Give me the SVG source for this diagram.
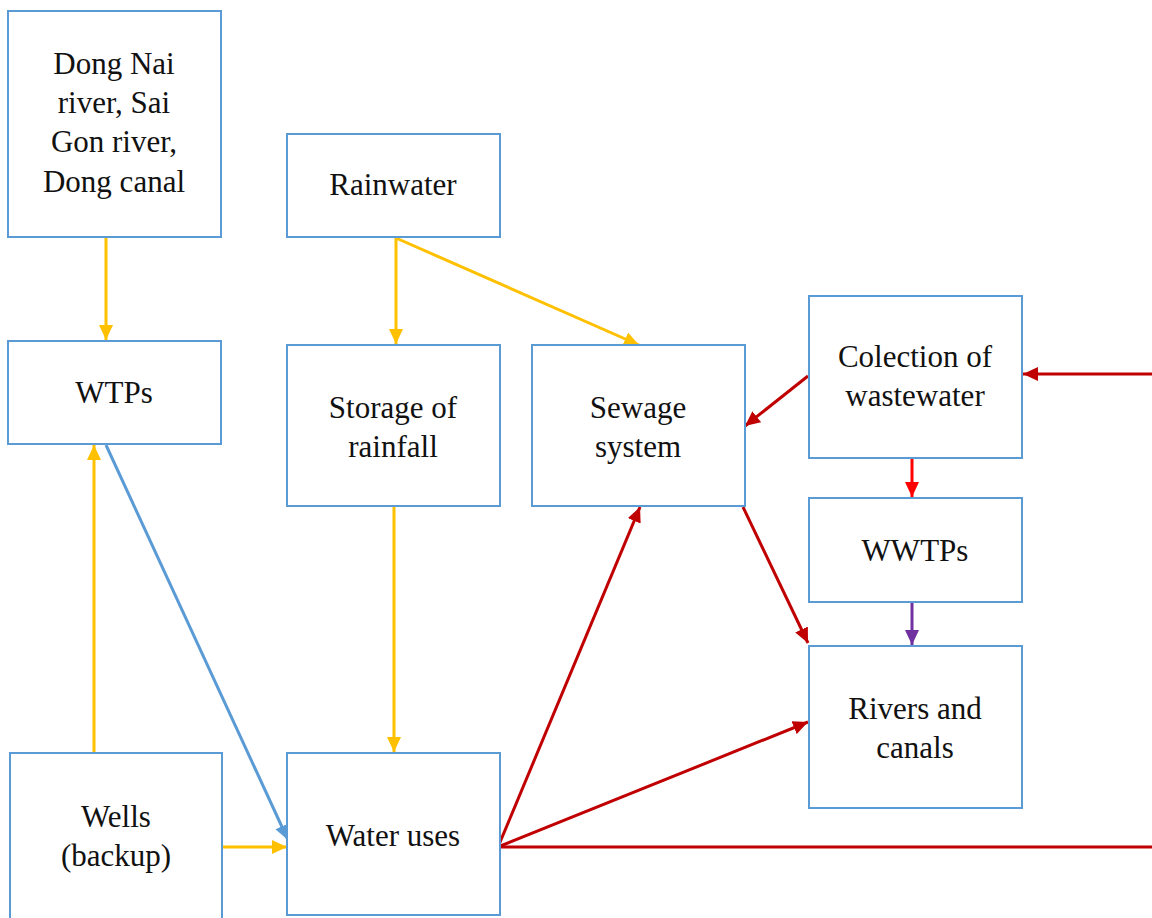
<svg xmlns="http://www.w3.org/2000/svg" width="1152" height="918" viewBox="0 0 1152 918">
<style>
.box{fill:#fff;stroke:#5B9BD5;stroke-width:2}
.t{font-family:"Liberation Serif","Times New Roman",serif;font-size:31px;fill:#111;text-anchor:middle}
.c{fill:none;stroke-width:3}
.y{stroke:#FFC000}
.b{stroke:#5B9BD5}
.dr{stroke:#C00000}
.r{stroke:#FF0000}
.p{stroke:#7030A0}
</style>
<defs>
<marker id="ay" markerUnits="userSpaceOnUse" markerWidth="16" markerHeight="14" refX="15" refY="7" orient="auto"><path d="M0,0 L15,7 L0,14 Z" fill="#FFC000"/></marker>
<marker id="ab" markerUnits="userSpaceOnUse" markerWidth="16" markerHeight="14" refX="15" refY="7" orient="auto"><path d="M0,0 L15,7 L0,14 Z" fill="#5B9BD5"/></marker>
<marker id="adr" markerUnits="userSpaceOnUse" markerWidth="16" markerHeight="14" refX="15" refY="7" orient="auto"><path d="M0,0 L15,7 L0,14 Z" fill="#C00000"/></marker>
<marker id="ar" markerUnits="userSpaceOnUse" markerWidth="16" markerHeight="14" refX="15" refY="7" orient="auto"><path d="M0,0 L15,7 L0,14 Z" fill="#FF0000"/></marker>
<marker id="ap" markerUnits="userSpaceOnUse" markerWidth="16" markerHeight="14" refX="15" refY="7" orient="auto"><path d="M0,0 L15,7 L0,14 Z" fill="#7030A0"/></marker>
</defs>
<rect width="1152" height="918" fill="#fff"/>

<g id="connectors">
<path class="c y" d="M106,238 L106,340" marker-end="url(#ay)"/>
<path class="c y" d="M396,238 L396,344" marker-end="url(#ay)"/>
<path class="c y" d="M396,238 L639,345" marker-end="url(#ay)"/>
<path class="c y" d="M394,507 L394,752" marker-end="url(#ay)"/>
<path class="c y" d="M94,753 L94,445" marker-end="url(#ay)"/>
<path class="c y" d="M223,847 L287,847" marker-end="url(#ay)"/>
<path class="c b" d="M106,445 L288,840" marker-end="url(#ab)"/>
<path class="c dr" d="M498,847 L640,507" marker-end="url(#adr)"/>
<path class="c dr" d="M498,847 L808,722" marker-end="url(#adr)"/>
<path class="c dr" d="M498,847 L1152,847"/>
<path class="c dr" d="M1152,374 L1023,374" marker-end="url(#adr)"/>
<path class="c dr" d="M808,376 L745,426" marker-end="url(#adr)"/>
<path class="c dr" d="M743,507 L808,643" marker-end="url(#adr)"/>
<path class="c r" d="M912,459 L912,497" marker-end="url(#ar)"/>
<path class="c p" d="M912,603 L912,645" marker-end="url(#ap)"/>
</g>

<g id="n-dongnai"><rect class="box" x="8" y="11" width="213" height="226"/>
<text class="t" x="114" y="74">Dong Nai</text><text class="t" x="114" y="113">river, Sai</text><text class="t" x="114" y="152">Gon river,</text><text class="t" x="114" y="192">Dong canal</text></g>
<g id="n-rainwater"><rect class="box" x="287" y="134" width="213" height="103"/>
<text class="t" x="393" y="195">Rainwater</text></g>
<g id="n-wtps"><rect class="box" x="8" y="341" width="213" height="103"/>
<text class="t" x="114" y="403">WTPs</text></g>
<g id="n-storage"><rect class="box" x="287" y="345" width="213" height="161"/>
<text class="t" x="393" y="418">Storage of</text><text class="t" x="393" y="457">rainfall</text></g>
<g id="n-sewage"><rect class="box" x="532" y="345" width="213" height="161"/>
<text class="t" x="638" y="418">Sewage</text><text class="t" x="638" y="457">system</text></g>
<g id="n-colection"><rect class="box" x="809" y="296" width="213" height="162"/>
<text class="t" x="915" y="367">Colection of</text><text class="t" x="915" y="406">wastewater</text></g>
<g id="n-wwtps"><rect class="box" x="809" y="498" width="213" height="104"/>
<text class="t" x="915" y="561">WWTPs</text></g>
<g id="n-rivers"><rect class="box" x="809" y="646" width="213" height="162"/>
<text class="t" x="915" y="719">Rivers and</text><text class="t" x="915" y="758">canals</text></g>
<g id="n-wells"><rect class="box" x="10" y="753" width="212" height="175"/>
<text class="t" x="116" y="827">Wells</text><text class="t" x="116" y="866">(backup)</text></g>
<g id="n-wateruses"><rect class="box" x="287" y="753" width="213" height="162"/>
<text class="t" x="393" y="846">Water uses</text></g>
</svg>
